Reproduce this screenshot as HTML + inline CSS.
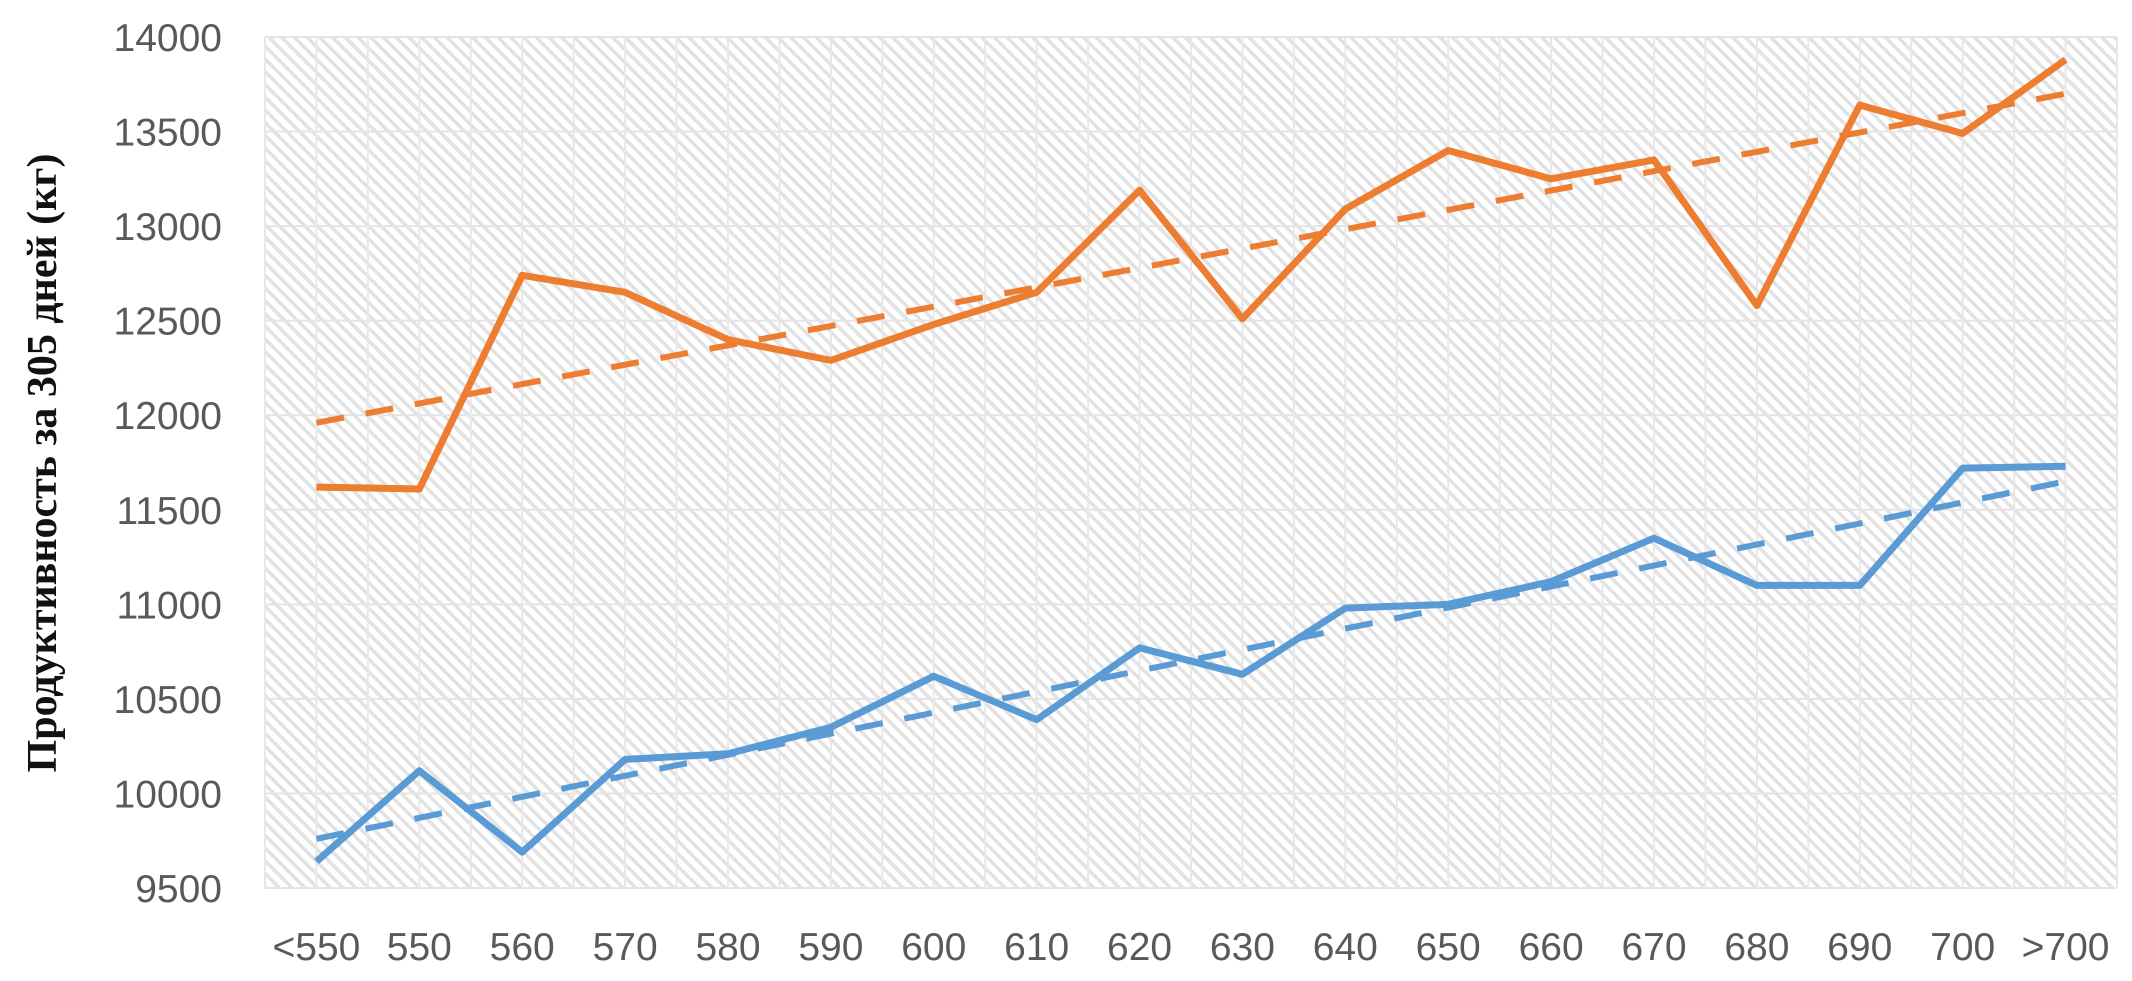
<!DOCTYPE html>
<html><head><meta charset="utf-8">
<style>
html,body{margin:0;padding:0;background:#fff;}
svg{display:block;}
</style></head>
<body>
<svg id="c" width="2132" height="981" xmlns="http://www.w3.org/2000/svg">
<defs>
<pattern id="h" width="9" height="9" patternUnits="userSpaceOnUse" patternTransform="rotate(-45)">
<rect width="9" height="9" fill="#ffffff"/>
<rect x="0" y="0" width="3.5" height="9" fill="#e2e2e2"/>
</pattern>
</defs>
<rect x="265" y="37" width="1852" height="851" fill="url(#h)"/>
<g id="grid"></g>
<g id="lab" font-family="Liberation Sans, sans-serif" font-size="39" fill="#595959"></g>
<text transform="translate(56,463) rotate(-90)" text-anchor="middle" font-family="Liberation Serif, serif" font-weight="bold" font-size="42" fill="#111">Продуктивность за 305 дней (кг)</text>
<g id="ser"></g>
</svg>
<script>
var L=265,R=2117,T=37,B=888,ns="http://www.w3.org/2000/svg";
function yv(v){return B-(v-9500)/4500*(B-T);}
var cw=(R-L)/18;function xv(i){return L+cw/2+i*cw;}
function el(n,a,p,t){var e=document.createElementNS(ns,n);for(var k in a)e.setAttribute(k,a[k]);if(t)e.textContent=t;document.getElementById(p).appendChild(e);}
for(var v=9500;v<=14000;v+=500){el('line',{x1:L,x2:R,y1:yv(v),y2:yv(v),stroke:'#e4e4e4','stroke-width':2},'grid');
el('text',{x:222,y:yv(v)+14,'text-anchor':'end'},'lab',String(v));}
for(var i=0;i<=36;i++){var x=L+i*cw/2;el('line',{x1:x,x2:x,y1:T,y2:B,stroke:'#e8e8e8','stroke-width':2},'grid');}
var cats=['<550','550','560','570','580','590','600','610','620','630','640','650','660','670','680','690','700','>700'];
cats.forEach(function(c,i){el('text',{x:xv(i),y:960,'text-anchor':'middle'},'lab',c);});
var o=[11620,11610,12740,12650,12400,12290,12480,12650,13190,12510,13090,13400,13250,13350,12580,13640,13490,13880];
var b=[9640,10120,9690,10180,10210,10350,10620,10390,10770,10630,10980,11000,11120,11350,11100,11100,11720,11730];
function pts(a){return a.map(function(v,i){return xv(i)+','+yv(v);}).join(' ');}
el('line',{x1:xv(0),y1:yv(11960),x2:xv(17),y2:yv(13700),stroke:'#ED7D31','stroke-width':6,'stroke-dasharray':'28 22'},'ser');
el('line',{x1:xv(0),y1:yv(9760),x2:xv(17),y2:yv(11650),stroke:'#5B9BD5','stroke-width':6,'stroke-dasharray':'28 22'},'ser');
el('polyline',{points:pts(o),fill:'none',stroke:'#ED7D31','stroke-width':7,'stroke-linejoin':'round'},'ser');
el('polyline',{points:pts(b),fill:'none',stroke:'#5B9BD5','stroke-width':7,'stroke-linejoin':'round'},'ser');
</script>
</body></html>
